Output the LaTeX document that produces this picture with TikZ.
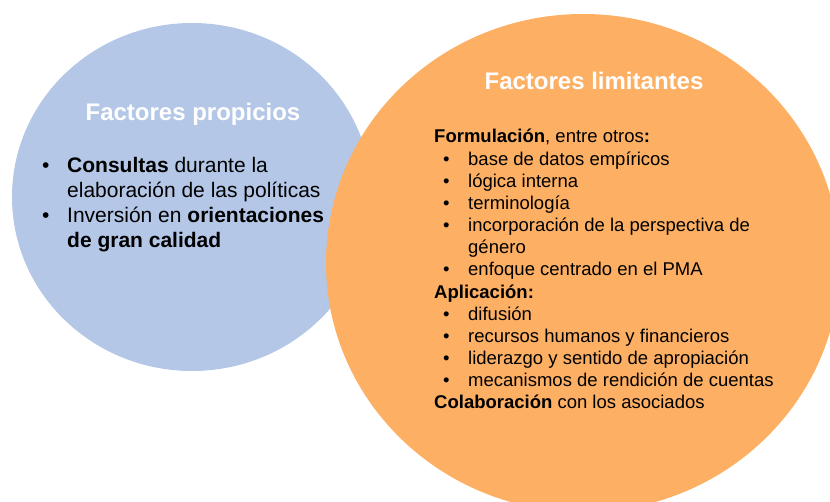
\documentclass[tikz,border=0pt]{standalone}
\usepackage{fontspec}
\setmainfont{Liberation Sans}
\usetikzlibrary{shapes.geometric}
\definecolor{propblue}{HTML}{B4C7E7}
\definecolor{limorange}{HTML}{FDB064}
\tikzstyle{factorblob}=[
    ellipse,
    inner sep=0pt,
    outer sep=0pt,
]
\tikzstyle{factortitle}=[
    text=white,
    inner sep=0pt,
    anchor=base,
    font=\fontsize{24}{28}\selectfont\bfseries,
]
\tikzstyle{factorlist}=[
    align=left,
    inner sep=0pt,
    anchor=base west,
]
\newcommand{\bul}[1]{\makebox[#1][l]{\textbullet}}

\begin{document}
\begin{tikzpicture}[x=1pt, y=-1pt]
        \useasboundingbox (0,0) rectangle (830,502);
        \node (propicios) at (192,197) [factorblob, fill=propblue, minimum width=360, minimum height=348] {};
        \node (limitantes) at (583,263) [factorblob, fill=limorange, minimum width=514, minimum height=498] {};
        \node (propiciostitle) at (193,121) [factortitle] {Factores propicios};
        \node (limitantestitle) at (594,90) [factortitle] {Factores limitantes};
        % anchor is the baseline of the last line
        \node (propicioslist) at (42,248) [factorlist, font=\fontsize{21}{25}\selectfont] {%
            \bul{25pt}\textbf{Consultas} durante la\\
            \hspace*{25pt}elaboración de las políticas\\
            \bul{25pt}Inversión en \textbf{orientaciones}\\
            \hspace*{25pt}\textbf{de gran calidad}};
        \node (limitanteslist) at (434,409) [factorlist, font=\fontsize{18.5}{22.17}\selectfont] {%
            \textbf{Formulación}, entre otros\textbf{:}\\
            \hspace*{9pt}\bul{25pt}base de datos empíricos\\
            \hspace*{9pt}\bul{25pt}lógica interna\\
            \hspace*{9pt}\bul{25pt}terminología\\
            \hspace*{9pt}\bul{25pt}incorporación de la perspectiva de\\
            \hspace*{34pt}género\\
            \hspace*{9pt}\bul{25pt}enfoque centrado en el PMA\\
            \textbf{Aplicación:}\\
            \hspace*{9pt}\bul{25pt}difusión\\
            \hspace*{9pt}\bul{25pt}recursos humanos y financieros\\
            \hspace*{9pt}\bul{25pt}liderazgo y sentido de apropiación\\
            \hspace*{9pt}\bul{25pt}mecanismos de rendición de cuentas\\
            \textbf{Colaboración} con los asociados};
    \end{tikzpicture}
\end{document}
